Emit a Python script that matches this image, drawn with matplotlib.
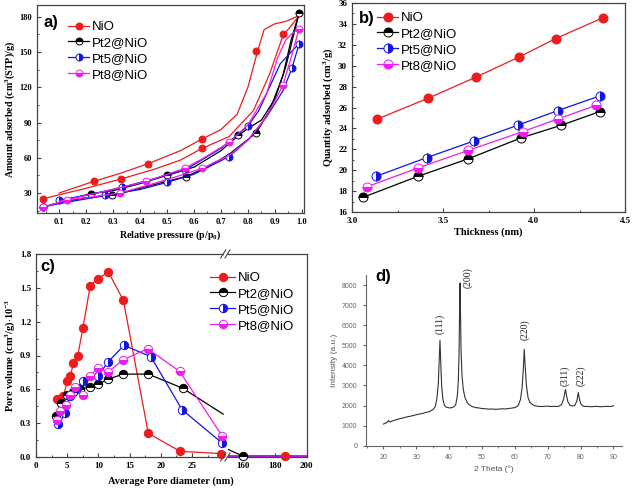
import matplotlib
matplotlib.use('Agg')
import matplotlib.pyplot as plt
from matplotlib.lines import Line2D
from matplotlib.ticker import MultipleLocator

plt.rcParams['font.family'] = 'Liberation Serif'
plt.rcParams['font.weight'] = 'bold'
plt.rcParams['axes.labelweight'] = 'bold'
plt.rcParams['mathtext.fontset'] = 'custom'
plt.rcParams['mathtext.rm'] = 'Liberation Serif:bold'
plt.rcParams['mathtext.it'] = 'Liberation Serif:italic:bold'
plt.rcParams['mathtext.bf'] = 'Liberation Serif:bold'

names = ['NiO', 'Pt2@NiO', 'Pt5@NiO', 'Pt8@NiO']
colors = ['#ec1c1c', 'black', '#1414e0', '#ee1cee']
fills = ['full', 'top', 'right', 'bottom']

# ---- a) N2 isotherms: adsorption / desorption branches + marker points
a_ads_p = [
    [0.04, 0.10, 0.20, 0.33, 0.45, 0.55, 0.63, 0.73, 0.82, 0.88, 0.93, 0.97, 0.99],
    [0.04, 0.10, 0.20, 0.30, 0.40, 0.50, 0.57, 0.65, 0.73, 0.83, 0.88, 0.93, 0.96, 0.99],
    [0.04, 0.10, 0.20, 0.27, 0.40, 0.50, 0.60, 0.73, 0.80, 0.87, 0.93, 0.963, 0.99],
    [0.04, 0.13, 0.20, 0.325, 0.45, 0.55, 0.63, 0.73, 0.80, 0.87, 0.93, 0.96, 0.99],
]
a_ads_v = [
    [25, 28.5, 34, 42, 50, 58, 68, 78, 100, 131, 164, 175, 181],
    [18, 22, 26, 28, 34, 40, 44, 52, 63, 81, 100, 130, 160, 183],
    [18, 21, 25, 28, 33, 39, 46, 61, 75, 95, 117, 136, 157],
    [18, 24, 26, 30, 38, 45, 51, 62, 75, 95, 122, 145, 170],
]
a_des_p = [
    [0.99, 0.94, 0.90, 0.86, 0.835, 0.80, 0.76, 0.70, 0.63, 0.55, 0.43, 0.33, 0.23, 0.10],
    [0.99, 0.97, 0.94, 0.90, 0.85, 0.80, 0.765, 0.70, 0.60, 0.50, 0.40, 0.30, 0.22, 0.10],
    [0.99, 0.96, 0.92, 0.88, 0.84, 0.80, 0.70, 0.57, 0.45, 0.335, 0.20, 0.10],
    [0.99, 0.96, 0.94, 0.91, 0.87, 0.80, 0.73, 0.63, 0.565, 0.424, 0.30, 0.20, 0.10],
]
a_des_v = [
    [181, 176, 174, 169, 150, 120, 97, 84, 76, 66, 55, 47, 40, 30],
    [183, 165, 137, 110, 92, 85, 79, 66, 52, 45, 38, 32, 29.5, 23],
    [157, 150, 140, 120, 100, 87, 68, 50, 42, 35, 28, 24],
    [170, 165, 160, 145, 115, 88, 73, 59, 51, 40, 33, 28, 23],
]
a_mk_p = [
    [0.04, 0.23, 0.33, 0.43, 0.63, 0.63, 0.83, 0.93],
    [0.04, 0.22, 0.295, 0.50, 0.57, 0.765, 0.83, 0.99],
    [0.04, 0.10, 0.27, 0.335, 0.50, 0.565, 0.73, 0.80, 0.963, 0.99],
    [0.04, 0.13, 0.325, 0.424, 0.565, 0.63, 0.73, 0.93, 0.99],
]
a_mk_v = [
    [25, 40, 42, 55, 68, 76, 151, 165],
    [18.5, 29.5, 28, 45, 44, 79, 81, 183],
    [18, 24, 28, 35, 39, 50, 61, 87, 136, 157],
    [18, 24, 30, 40, 51, 51, 73, 122, 170],
]

# ---- b) t-plot
b_x = [
    [3.14, 3.42, 3.68, 3.92, 4.12, 4.38],
    [3.06, 3.36, 3.64, 3.93, 4.15, 4.36],
    [3.13, 3.41, 3.67, 3.91, 4.13, 4.36],
    [3.08, 3.36, 3.64, 3.94, 4.13, 4.34],
]
b_y = [
    [24.9, 26.9, 28.9, 30.85, 32.6, 34.6],
    [17.4, 19.4, 21.1, 23.1, 24.3, 25.6],
    [19.4, 21.2, 22.8, 24.3, 25.7, 27.1],
    [18.4, 20.2, 21.9, 23.7, 24.9, 26.2],
]

# ---- c) pore size distribution (left part 0-30 nm, right part 150-200 nm)
c_x = [
    [3.4, 4.4, 5.0, 5.5, 6.0, 6.7, 7.5, 8.7, 9.9, 11.6, 14.0, 18.0, 23.1, 29.7],
    [3.2, 4.0, 5.0, 6.0, 7.1, 8.6, 10.0, 11.5, 14.0, 18.0, 23.5, 30.0],
    [3.6, 4.7, 5.5, 6.5, 7.5, 10.0, 11.5, 14.1, 18.4, 23.4, 29.8],
    [3.4, 3.8, 4.8, 5.5, 6.3, 7.5, 8.6, 10.0, 11.5, 13.9, 17.9, 23.0, 29.8],
]
c_y = [
    [0.51, 0.54, 0.67, 0.72, 0.83, 0.90, 1.14, 1.52, 1.58, 1.64, 1.39, 0.21, 0.05, 0.03],
    [0.36, 0.48, 0.55, 0.58, 0.60, 0.62, 0.645, 0.69, 0.735, 0.735, 0.61, 0.38],
    [0.29, 0.39, 0.54, 0.61, 0.67, 0.72, 0.84, 0.99, 0.89, 0.42, 0.125],
    [0.33, 0.41, 0.46, 0.55, 0.62, 0.55, 0.72, 0.79, 0.75, 0.86, 0.96, 0.76, 0.19],
]
c_mk_n = [14, 11, 11, 13]   # last point of Pt2 line sits on the break, no marker
c_x2 = [
    [150, 186, 200],
    [150, 160, 200],
    [150, 175, 200],
    [150, 175, 200],
]
c_y2 = [
    [0.01, 0.01, 0.006],
    [0.07, 0.006, 0.006],
    [0.008, 0.006, 0.006],
    [0.01, 0.008, 0.008],
]
c_mk2_x = [[186], [160], [], []]
c_mk2_y = [[0.01], [0.006], [], []]

# ---- d) XRD pattern
d_theta = [20, 21, 21.5, 22, 23, 24, 25, 26, 27, 28, 29, 30, 31, 32, 33, 34, 35, 35.5,
           35.8, 36.3, 36.7, 36.95, 37.2, 37.45, 37.7, 38.1, 38.6, 39, 40, 41, 41.6,
           42.0, 42.5, 42.8, 43.0, 43.15, 43.3, 43.45, 43.6, 43.9, 44.3, 44.8, 45.5,
           46, 47, 48, 49, 50, 51, 52, 53, 54, 55, 56, 57, 58, 59, 60, 60.5,
           61.0, 61.7, 62.2, 62.55, 62.85, 63.15, 63.5, 64.0, 64.6, 65.5, 66, 67, 68,
           69, 70, 71, 72, 73, 73.6, 74.2, 74.8, 75.2, 75.4, 75.65, 76.1, 76.8, 77.5,
           78.2, 78.8, 79.1, 79.3, 79.55, 80.0, 80.6, 81.5, 82, 83, 84, 85, 86, 87,
           88, 89, 90]
d_int = [1080, 1150, 1250, 1180, 1250, 1300, 1350, 1380, 1430, 1460, 1500, 1540, 1580,
         1610, 1660, 1700, 1790, 1880, 1960, 2400, 3100, 4200, 5250, 4100, 3000, 2300,
         2000, 1930, 1880, 1900, 1960, 2050, 2500, 3300, 4500, 6500, 8100, 6600, 4800,
         3500, 2800, 2400, 2150, 2050, 1950, 1900, 1880, 1850, 1840, 1820, 1830, 1810,
         1820, 1840, 1830, 1850, 1870, 1900, 1940, 2000, 2300, 2900, 3800, 4800, 3900,
         3000, 2400, 2150, 2030, 1990, 1960, 1950, 1960, 1970, 1950, 1960, 1950, 1980,
         2050, 2300, 2650, 2800, 2550, 2200, 2000, 1980, 2000, 2200, 2450, 2650, 2400,
         2100, 1980, 1950, 1960, 1940, 1950, 1960, 1940, 1950, 1960, 1950, 1990]
d_peaks = ['(111)', '(200)', '(220)', '(311)', '(222)']
d_peak_x = [37.2, 45.6, 63.1, 75.3, 80.0]
d_peak_y = [6050, 8380, 5760, 3500, 3500]


def rect(l, t, r, b):
    return [l / 636, 1 - b / 490, (r - l) / 636, (b - t) / 490]


def mk(i, ms):
    return dict(marker='o', ms=ms, fillstyle=fills[i], markerfacecolor=colors[i],
                markerfacecoloralt='white', markeredgecolor=colors[i], markeredgewidth=0.7)


def handles(ms):
    return [Line2D([], [], color=colors[i], lw=0.9, **mk(i, ms)) for i in range(4)]


def origin_style(ax, fs):
    for s in ax.spines.values():
        s.set_color('#444444')
        s.set_linewidth(0.9)
    ax.tick_params(which='both', direction='in', colors='#444444', labelcolor='black',
                   labelsize=fs, top=False, right=False)
    ax.tick_params(which='major', length=3, width=0.8)
    ax.tick_params(which='minor', length=1.6, width=0.7)
    plt.setp(ax.get_xticklabels() + ax.get_yticklabels(), fontweight='bold')


fig = plt.figure(figsize=(6.36, 4.9), dpi=100)
leg_kw = dict(frameon=False, prop={'family': 'Liberation Sans', 'size': 9.5, 'weight': 'normal'},
              handletextpad=0.2, borderpad=0, borderaxespad=0, labelspacing=0.27,
              loc='upper left')

# a)
ax = fig.add_axes(rect(37, 5, 304, 213))
for i in range(4):
    ax.plot(a_ads_p[i], a_ads_v[i], color=colors[i], lw=0.9)
    ax.plot(a_des_p[i], a_des_v[i], color=colors[i], lw=0.9)
    ax.plot(a_mk_p[i], a_mk_v[i], ls='none', **mk(i, 5))
ax.set_xlim(0.018, 1.008)
ax.set_ylim(13, 190)
ax.set_xticks([0.1, 0.2, 0.3, 0.4, 0.5, 0.6, 0.7, 0.8, 0.9, 1.0])
ax.xaxis.set_minor_locator(MultipleLocator(0.05))
ax.yaxis.set_major_locator(MultipleLocator(30))
ax.yaxis.set_minor_locator(MultipleLocator(15))
origin_style(ax, 6)
ax.set_xlabel('Relative pressure (p/p$_0$)', fontsize=7.2, labelpad=2)
ax.set_ylabel('Amount adsorbed (cm$^3$(STP)/g)', fontsize=7.2, labelpad=2)
fig.legend(handles(5), names, bbox_to_anchor=(68 / 636, 1 - 21 / 490), handlelength=1.6, **leg_kw)
fig.text(43 / 636, 1 - 22 / 490, 'a)', family='Liberation Sans', weight='bold', fontsize=12, va='center')

# b)
ax = fig.add_axes(rect(352, 3, 625, 212))
for i in range(4):
    ax.plot(b_x[i], b_y[i], color=colors[i], lw=0.9, **mk(i, 6.5))
ax.set_xlim(3.0, 4.5)
ax.set_ylim(16, 36)
ax.set_xticks([3.0, 3.5, 4.0, 4.5])
ax.xaxis.set_minor_locator(MultipleLocator(0.25))
ax.yaxis.set_major_locator(MultipleLocator(2))
ax.yaxis.set_minor_locator(MultipleLocator(1))
origin_style(ax, 6.5)
ax.set_xlabel('Thickness (nm)', fontsize=7.5, labelpad=2)
ax.set_ylabel('Quantity adsorbed (cm$^3$/g)', fontsize=7.5, labelpad=2)
fig.legend(handles(6.5), names, bbox_to_anchor=(377 / 636, 1 - 12 / 490), handlelength=1.6, **leg_kw)
fig.text(359 / 636, 1 - 18 / 490, 'b)', family='Liberation Sans', weight='bold', fontsize=12, va='center')

# c) broken x axis
axl = fig.add_axes(rect(36, 254, 223.2, 457))
axr = fig.add_axes(rect(227.5, 254, 306.7, 457))
for i in range(4):
    axl.plot(c_x[i], c_y[i], color=colors[i], lw=0.9, clip_on=False)
    n = c_mk_n[i]
    axl.plot(c_x[i][:n], c_y[i][:n], ls='none', clip_on=False, zorder=3, **mk(i, 6))
    axr.plot(c_x2[i], c_y2[i], color=colors[i], lw=0.9)
    axr.plot(c_mk2_x[i], c_mk2_y[i], ls='none', clip_on=False, zorder=3, **mk(i, 6))
axl.set_xlim(0, 30)
axr.set_xlim(150, 200)
axl.set_xticks([0, 5, 10, 15, 20, 25])
axl.xaxis.set_minor_locator(MultipleLocator(2.5))
axr.set_xticks([160, 180, 200])
axr.xaxis.set_minor_locator(MultipleLocator(10))
for a_ in (axl, axr):
    a_.set_ylim(0, 1.8)
    a_.yaxis.set_major_locator(MultipleLocator(0.3))
    a_.yaxis.set_minor_locator(MultipleLocator(0.15))
    origin_style(a_, 6.5)
axl.spines['right'].set_visible(False)
axr.spines['left'].set_visible(False)
axr.tick_params(which='both', left=False, labelleft=False)
axl.set_ylabel('Pore volume (cm$^3$/g)$\\cdot$10$^{-3}$', fontsize=7.5, labelpad=2)
fig.text(171 / 636, 1 - 481 / 490, 'Average Pore diameter (nm)', fontsize=7.5, ha='center', va='center')
for xb in (223.2, 227.5):
    for yb in (254, 457):
        fig.add_artist(Line2D([(xb - 2.5) / 636, (xb + 2.5) / 636],
                              [1 - (yb + 4) / 490, 1 - (yb - 4) / 490], color='#444444', lw=0.8))
fig.legend(handles(6), names, bbox_to_anchor=(210 / 636, 1 - 272 / 490), handlelength=1.9, **leg_kw)
fig.text(40 / 636, 1 - 267 / 490, 'c)', family='Liberation Sans', weight='bold', fontsize=12, va='center')

# d) XRD
ax = fig.add_axes(rect(365.7, 275, 621.7, 445.7))
ax.plot(d_theta, d_int, color='#333333', lw=0.8)
for lab, px, py in zip(d_peaks, d_peak_x, d_peak_y):
    ax.text(px, py, lab, rotation=90, ha='center', va='center', fontsize=7,
            family='Liberation Serif', weight='normal', color='#222222')
ax.set_xlim(14.6, 92.5)
ax.set_ylim(0, 8500)
ax.set_xticks([20, 30, 40, 50, 60, 70, 80, 90])
ax.xaxis.set_minor_locator(MultipleLocator(5))
ax.set_yticks(range(0, 8001, 1000))
for s in ('top', 'right'):
    ax.spines[s].set_visible(False)
for s in ('left', 'bottom'):
    ax.spines[s].set_color('#666666')
    ax.spines[s].set_linewidth(0.8)
ax.tick_params(which='both', direction='out', colors='#666666', labelsize=5)
ax.tick_params(which='major', length=2.5)
ax.tick_params(which='minor', length=1.5)
for t in ax.get_xticklabels() + ax.get_yticklabels():
    t.set_family('Liberation Sans')
    t.set_weight('normal')
ax.set_xlabel('2 Theta (°)', family='Liberation Sans', weight='normal', fontsize=6, color='#555555', labelpad=3)
ax.set_ylabel('Intensity (a.u.)', family='Liberation Sans', weight='normal', fontsize=6, color='#555555', labelpad=3)
fig.text(375 / 636, 1 - 276 / 490, 'd)', family='Liberation Sans', weight='bold', fontsize=12, va='center')

fig.savefig('out.png', dpi=100, facecolor='white')
